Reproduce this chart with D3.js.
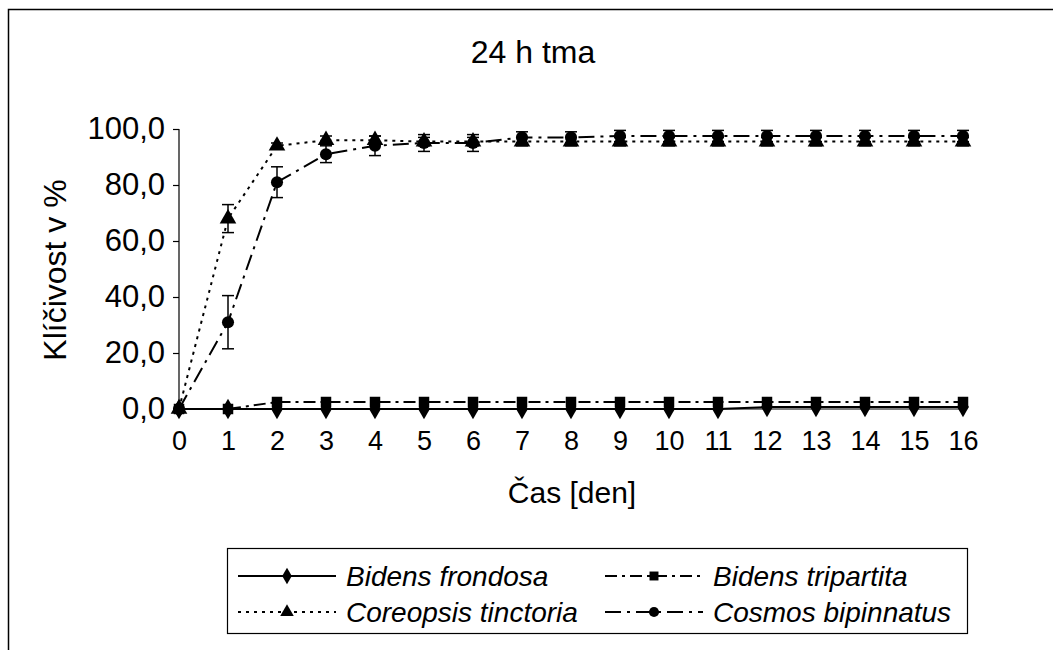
<!DOCTYPE html>
<html>
<head>
<meta charset="utf-8">
<script src="https://d3js.org/d3.v7.min.js"></script>
<style>
  body { margin: 0; background: #fff; }
  text { font-family: "Liberation Sans", Arial, sans-serif; fill: #000; }
</style>
</head>
<body>
<svg width="1053" height="650"></svg>
<script>
// values
var days = d3.range(0, 17);
var names = ["Bidens frondosa", "Bidens tripartita", "Coreopsis tinctoria", "Cosmos bipinnatus"];
var frondosa   = [0, 0, 0, 0, 0, 0, 0, 0, 0, 0, 0, 0, 0.7, 0.7, 0.7, 0.7, 0.7];
var tripartita = [0, 0, 2.5, 2.5, 2.5, 2.5, 2.5, 2.5, 2.5, 2.5, 2.5, 2.5, 2.5, 2.5, 2.5, 2.5, 2.5];
var coreopsis  = [0, 68, 94, 96, 96, 95.5, 95.5, 95.5, 95.5, 95.5, 95.5, 95.5, 95.5, 95.5, 95.5, 95.5, 95.5];
var cosmos     = [0, 31, 81, 91, 94, 95, 95, 97, 97, 97.5, 97.5, 97.5, 97.5, 97.5, 97.5, 97.5, 97.5];
var errCoreopsis = [0, 5, 1, 1.5, 1.5, 1.5, 1.5, 1.5, 1.5, 1.5, 1.5, 1.5, 1.5, 1.5, 1.5, 1.5, 1.5];
var errCosmos    = [0, 9.5, 5.5, 3, 3.5, 3, 3, 2, 2, 2, 2, 2, 2, 2, 2, 2, 2];
var yTicks = [0, 20, 40, 60, 80, 100];

var svg = d3.select("svg");

// outer frame (cut at right and bottom)
svg.append("path")
   .attr("d", "M8.5,650 V9.5 H1053")
   .attr("fill", "none")
   .attr("stroke", "#000")
   .attr("stroke-width", 1.5);

var x = d3.scaleLinear().domain([0, 16]).range([179, 963]);
var y = d3.scaleLinear().domain([0, 100]).range([409, 129]);

var g = svg.append("g");

// axes
var yAxis = g.append("g")
   .attr("transform", "translate(179,0)")
   .call(d3.axisLeft(y).tickValues(yTicks).tickSize(6).tickPadding(8)
         .tickFormat(function(d) { return d3.format(".1f")(d).replace(".", ","); }));
var xAxis = g.append("g")
   .attr("transform", "translate(0,409)")
   .call(d3.axisBottom(x).tickValues(days).tickSize(6).tickPadding(16));
[yAxis, xAxis].forEach(function(a) {
  a.select(".domain").attr("stroke-width", 1.2);
  a.selectAll(".tick line").attr("stroke-width", 1.2);
  a.selectAll("text").attr("font-family", "Liberation Sans, Arial, sans-serif");
});
yAxis.selectAll("text").style("font-size", "31px");
xAxis.selectAll("text").style("font-size", "27px");
yAxis.select(".domain").attr("d", "M0," + y(100) + "V" + y(0));
xAxis.select(".domain").attr("d", "M" + x(0) + ",0H" + x(16));

var series = [
  { name: names[0], values: frondosa,   err: null,         dash: null,          marker: "diamond" },
  { name: names[1], values: tripartita, err: null,         dash: "12,5,3,5",    marker: "square" },
  { name: names[2], values: coreopsis,  err: errCoreopsis, dash: "3,5",         marker: "triangle" },
  { name: names[3], values: cosmos,     err: errCosmos,    dash: "16,6,3,6",    marker: "circle" }
];

var symbols = {
  diamond: d3.symbol().type(d3.symbolDiamond).size(120),
  square: d3.symbol().type(d3.symbolSquare).size(110),
  triangle: d3.symbol().type(d3.symbolTriangle).size(120),
  circle: d3.symbol().type(d3.symbolCircle).size(115)
};

var line = d3.line()
   .x(function(d, i) { return x(days[i]); })
   .y(function(d) { return y(d); });

// error bars
series.forEach(function(s) {
  if (!s.err) return;
  var eb = g.append("g");
  s.values.forEach(function(v, i) {
    var e = s.err[i];
    if (!e) return;
    var cx = x(days[i]);
    eb.append("line").attr("x1", cx).attr("x2", cx)
      .attr("y1", y(v - e)).attr("y2", y(v + e))
      .attr("stroke", "#000").attr("stroke-width", 1.5);
    [v - e, v + e].forEach(function(t) {
      eb.append("line").attr("x1", cx - 6).attr("x2", cx + 6)
        .attr("y1", y(t)).attr("y2", y(t))
        .attr("stroke", "#000").attr("stroke-width", 1.5);
    });
  });
});

// lines and markers
series.forEach(function(s) {
  g.append("path")
   .attr("d", line(s.values))
   .attr("fill", "none")
   .attr("stroke", "#000")
   .attr("stroke-width", 2)
   .attr("stroke-dasharray", s.dash);
  g.selectAll(null).data(s.values).enter().append("path")
   .attr("transform", function(d, i) { return "translate(" + x(days[i]) + "," + y(d) + ")"; })
   .attr("d", symbols[s.marker])
   .attr("fill", "#000");
});

// titles
svg.append("text").attr("x", 533).attr("y", 63).attr("text-anchor", "middle")
   .style("font-size", "32px").text("24 h tma");
svg.append("text").attr("transform", "translate(66,270) rotate(-90)").attr("text-anchor", "middle")
   .style("font-size", "32px").text("Klíčivost v %");
svg.append("text").attr("x", 572).attr("y", 503).attr("text-anchor", "middle")
   .style("font-size", "30px").text("Čas [den]");

// legend
var lg = svg.append("g");
lg.append("rect").attr("x", 227.5).attr("y", 548.5).attr("width", 740).attr("height", 85)
  .attr("fill", "none").attr("stroke", "#000").attr("stroke-width", 1.2);
var legPos = [[238, 576], [605, 576], [238, 612], [605, 612]];
series.forEach(function(s, i) {
  var p = legPos[i];
  lg.append("line").attr("x1", p[0]).attr("x2", p[0] + 98)
    .attr("y1", p[1]).attr("y2", p[1])
    .attr("stroke", "#000").attr("stroke-width", 2)
    .attr("stroke-dasharray", s.dash);
  lg.append("path").attr("transform", "translate(" + (p[0] + 49) + "," + p[1] + ")")
    .attr("d", symbols[s.marker].size(80)()).attr("fill", "#000");
  lg.append("text").attr("x", p[0] + 108).attr("y", p[1] + 10)
    .style("font-size", "28px").style("font-style", "italic").text(s.name);
});
</script>
</body>
</html>
